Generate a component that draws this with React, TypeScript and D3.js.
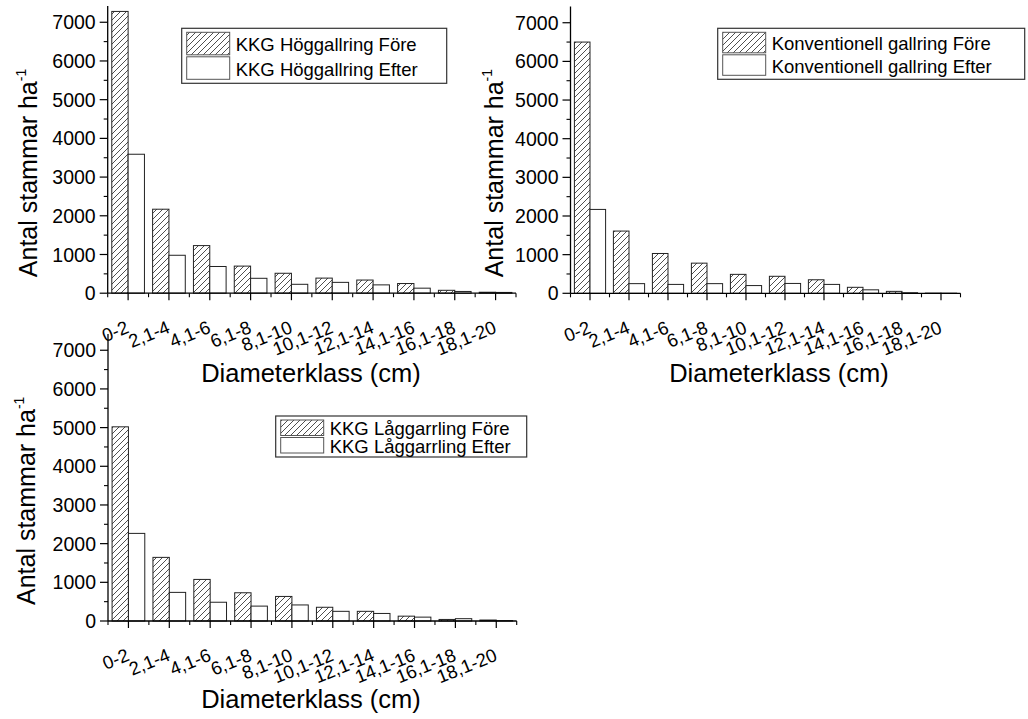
import React from "react";
import * as d3 from "d3";

const categories = ["0-2", "2,1-4", "4,1-6", "6,1-8", "8,1-10", "10,1-12", "12,1-14", "14,1-16", "16,1-18", "18,1-20"];
const hogFore = [7280, 2170, 1230, 700, 515, 390, 340, 250, 75, 25];
const hogEfter = [3590, 980, 690, 385, 230, 280, 215, 130, 45, 20];
const konvFore = [6500, 1610, 1030, 780, 490, 440, 350, 155, 50, 5];
const konvEfter = [2170, 250, 230, 250, 200, 255, 230, 90, 15, 3];
const lagFore = [5020, 1645, 1075, 730, 635, 355, 250, 125, 40, 25];
const lagEfter = [2265, 740, 485, 385, 415, 250, 195, 100, 60, 10];
const yTicks = [0, 1000, 2000, 3000, 4000, 5000, 6000, 7000];
const yMinorTicks = [500, 1500, 2500, 3500, 4500, 5500, 6500];
const yMax = 7420;
const yTitle = "Antal stammar ha";
const xTitle = "Diameterklass (cm)";

const FONT = "'Liberation Sans', Arial, sans-serif";

type PanelProps = {
  fore: number[];
  efter: number[];
  legend: [string, string];
  left: number;
  right: number;
  top: number;
  bottom: number;
  legendBox: { x: number; y: number; w: number; h: number };
  yTitleX: number;
  xTitleX: number;
  xTitleY: number;
};

function Panel(p: PanelProps) {
  const x = d3.scaleLinear().domain([0.5, categories.length + 0.5]).range([p.left, p.right]);
  const y = d3.scaleLinear().domain([0, yMax]).range([p.bottom, p.top]);
  const step = x(2) - x(1);
  const bw = step * 0.4;
  const idx = d3.range(1, categories.length + 1);
  const minorX = d3.range(0, categories.length + 1).map((i) => i + 0.5);
  const lb = p.legendBox;
  const rowH = (lb.h - 6) / 2;
  return (
    <g fontFamily={FONT} fill="#000">
      {idx.map((c, i) => (
        <g key={"b" + i}>
          <rect x={x(c) - bw} y={y(p.fore[i])} width={bw} height={y(0) - y(p.fore[i])} fill="url(#hatch)" stroke="#222" strokeWidth={1} />
          <rect x={x(c)} y={y(p.efter[i])} width={bw} height={y(0) - y(p.efter[i])} fill="#fff" stroke="#222" strokeWidth={1} />
        </g>
      ))}
      {/* y axis */}
      <line x1={p.left} x2={p.left} y1={p.top} y2={p.bottom} stroke="#000" strokeWidth={1.3} />
      {yTicks.map((t) => (
        <g key={"yt" + t}>
          <line x1={p.left - 8} x2={p.left} y1={y(t)} y2={y(t)} stroke="#000" strokeWidth={1.2} />
          <text x={p.left - 12} y={y(t)} dy="0.36em" textAnchor="end" fontSize={19.5}>
            {t}
          </text>
        </g>
      ))}
      {yMinorTicks.map((t) => (
        <line key={"ym" + t} x1={p.left - 4} x2={p.left} y1={y(t)} y2={y(t)} stroke="#000" strokeWidth={1.1} />
      ))}
      {/* x axis */}
      <line x1={p.left} x2={p.right} y1={p.bottom} y2={p.bottom} stroke="#000" strokeWidth={1.3} />
      {idx.map((c) => (
        <line key={"xt" + c} x1={x(c)} x2={x(c)} y1={p.bottom} y2={p.bottom + 7} stroke="#000" strokeWidth={1.2} />
      ))}
      {minorX.map((c) => (
        <line key={"xm" + c} x1={x(c)} x2={x(c)} y1={p.bottom} y2={p.bottom + 4} stroke="#000" strokeWidth={1.1} />
      ))}
      {idx.map((c, i) => (
        <text
          key={"xl" + c}
          transform={`translate(${x(c) + 2},${p.bottom + 39}) rotate(-22)`}
          textAnchor="end"
          fontSize={18.5}
        >
          {categories[i]}
        </text>
      ))}
      {/* titles */}
      <text transform={`translate(${p.yTitleX},${p.bottom - 16}) rotate(-90)`} fontSize={25} textAnchor="start">
        {yTitle}
        <tspan fontSize={14} dy={-11}>-1</tspan>
      </text>
      <text x={p.xTitleX} y={p.xTitleY} textAnchor="middle" fontSize={25.5}>
        {xTitle}
      </text>
      {/* legend */}
      <rect x={lb.x} y={lb.y} width={lb.w} height={lb.h} fill="#fff" stroke="#333" strokeWidth={1.2} />
      <rect x={lb.x + 5} y={lb.y + 4} width={43} height={rowH - 2} fill="url(#hatch)" stroke="#555" strokeWidth={1} />
      <rect x={lb.x + 5} y={lb.y + 4 + rowH} width={43} height={rowH - 2} fill="#fff" stroke="#555" strokeWidth={1} />
      <text x={lb.x + 54} y={lb.y + 4 + rowH * 0.5} dy="0.36em" fontSize={18.5}>
        {p.legend[0]}
      </text>
      <text x={lb.x + 54} y={lb.y + 4 + rowH * 1.5} dy="0.36em" fontSize={18.5}>
        {p.legend[1]}
      </text>
    </g>
  );
}

export default function App() {
  return (
    <svg width={1028} height={719} style={{ position: "absolute", left: 0, top: 0, background: "#fff" }}>
      <defs>
        <pattern id="hatch" patternUnits="userSpaceOnUse" width={6} height={6}>
          <rect width={6} height={6} fill="#fff" />
          <path d="M0,6 L6,0 M-1,1 L1,-1 M5,7 L7,5" stroke="#222" strokeWidth={0.8} />
        </pattern>
      </defs>
      <rect width={1028} height={719} fill="#fff" />
      <Panel
        fore={lagFore}
        efter={lagEfter}
        legend={["KKG Låggarrling Före", "KKG Låggarrling Efter"]}
        left={108}
        right={516.7}
        top={334}
        bottom={621}
        legendBox={{ x: 275.7, y: 416, w: 251, h: 41 }}
        yTitleX={35}
        xTitleX={311}
        xTitleY={708}
      />
      <Panel
        fore={hogFore}
        efter={hogEfter}
        legend={["KKG Höggallring Före", "KKG Höggallring Efter"]}
        left={107.7}
        right={516}
        top={6}
        bottom={293.2}
        legendBox={{ x: 181.7, y: 28.3, w: 265, h: 55 }}
        yTitleX={36.5}
        xTitleX={311}
        xTitleY={382}
      />
      <Panel
        fore={konvFore}
        efter={konvEfter}
        legend={["Konventionell gallring Före", "Konventionell gallring Efter"]}
        left={570.5}
        right={960.5}
        top={6.5}
        bottom={293.3}
        legendBox={{ x: 717.7, y: 28.3, w: 307, h: 51 }}
        yTitleX={503}
        xTitleX={779}
        xTitleY={382}
      />
    </svg>
  );
}
